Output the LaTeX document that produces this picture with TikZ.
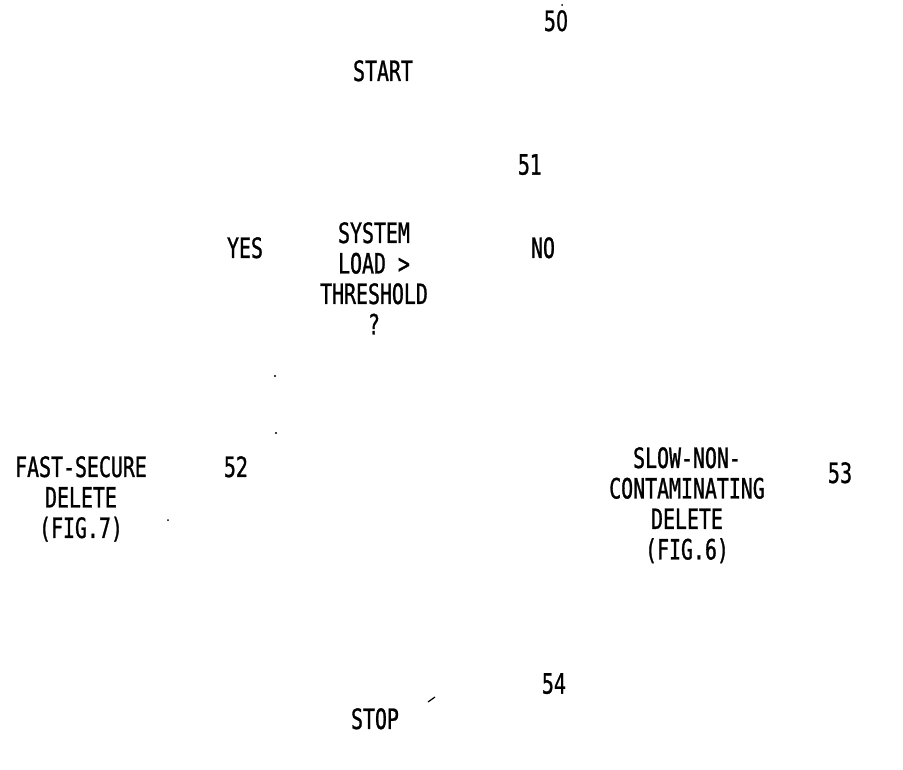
\documentclass[tikz,border=0pt]{standalone}
\usepackage{fontspec}
\setmainfont{DejaVu Sans Mono}[FakeStretch=0.71,FakeBold=1]
\newfontfamily\numfont{DejaVu Sans}[FakeStretch=0.68,FakeBold=1]
\begin{document}
\begin{tikzpicture}[x=1pt,y=-1pt,
  lbl/.style={inner sep=0pt,anchor=north,align=center,font=\fontsize{28}{30.5}\selectfont},
  num/.style={lbl,font=\fontsize{28}{30.5}\selectfont\numfont},
  speck/.style={fill=black}]
\useasboundingbox (0,0) rectangle (903,770);
% labels
\node[num] (n50) at (556,10) {50};
\node[lbl] (start) at (383,60) {START};
\node[num] (n51) at (530,154) {51};
\node[lbl] (yes) at (245,237) {YES};
\node[lbl] (dec) at (374,222) {SYSTEM\\LOAD >\\THRESHOLD\\?};
\node[lbl] (no) at (543,237) {NO};
\node[lbl] (fast) at (81,456) {FAST-SECURE\\DELETE\\(FIG.7)};
\node[num] (n52) at (236,456) {52};
\node[lbl] (slow) at (687,447) {SLOW-NON-\\CONTAMINATING\\DELETE\\(FIG.6)};
\node[num] (n53) at (840,462) {53};
\node[num] (n54) at (554,673) {54};
\node[lbl] (stop) at (375,708) {STOP};
% scanning specks
\fill[speck] (275,376) circle (1.1);
\fill[speck] (276,433) circle (1.1);
\fill[speck] (168,520) circle (1);
\fill[speck] (562,5) circle (1);
\draw[line width=1.2pt] (428,702) -- (435,697);
\end{tikzpicture}
\end{document}
